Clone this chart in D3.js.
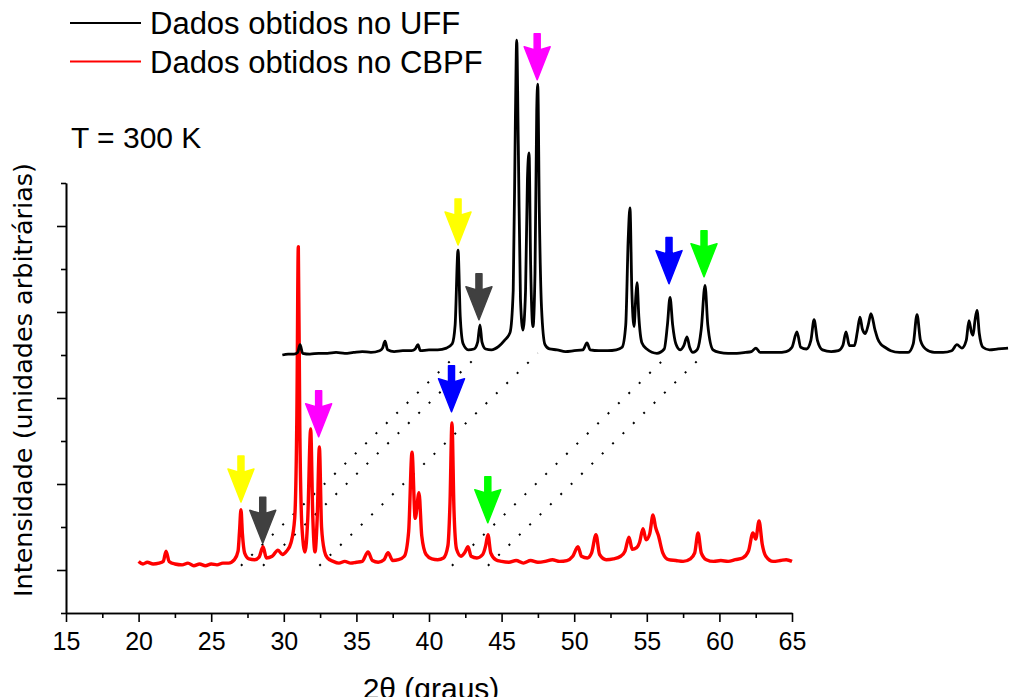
<!DOCTYPE html>
<html>
<head>
<meta charset="utf-8">
<script src="https://cdn.jsdelivr.net/npm/d3@7"></script>
<style>
  html, body { margin: 0; padding: 0; background: #fff; }
  svg { display: block; }
</style>
</head>
<body>
<svg id="chart" width="1009" height="697"></svg>
<script>
// ---------------- DATA ----------------
// Red: CBPF data, 2θ (deg) vs intensity (arb. units)
const cbpfData = [
  [20.0,60],[20.3,57],[20.6,59],[21.0,57],[21.4,58],[21.7,60],[21.89,72],[22.1,60],[22.5,57],[23.0,56],
  [23.4,58],[23.8,55],[24.2,57],[24.6,55],[25.0,57],[25.4,56],[25.8,58],[26.2,58],[26.6,62],[26.85,72],
  [26.95,95],[27.05,120],[27.15,92],[27.3,70],[27.6,63],[28.0,62],[28.3,65],[28.57,77],[28.8,64],[29.2,66],
  [29.6,73],[29.9,68],[30.2,72],[30.5,82],[30.75,110],[30.9,230],[31.0,426],[31.1,220],[31.25,100],[31.46,71],
  [31.65,110],[31.85,214],[32.0,110],[32.15,71],[32.3,110],[32.45,193],[32.6,100],[32.8,72],[33.0,64],[33.4,60],
  [33.8,58],[34.2,60],[34.6,58],[35.0,59],[35.4,60],[35.8,71],[36.1,61],[36.5,59],[36.9,62],[37.18,70],
  [37.5,61],[37.9,62],[38.3,66],[38.6,95],[38.83,187],[39.05,110],[39.31,140],[39.5,90],[39.8,68],[40.2,63],
  [40.6,62],[41.0,64],[41.3,78],[41.45,130],[41.58,221],[41.72,120],[41.9,74],[42.2,66],[42.45,70],[42.69,77],
  [42.9,66],[43.3,64],[43.7,68],[43.9,78],[44.06,91],[44.25,70],[44.6,62],[45.0,60],[45.5,59],[46.0,61],
  [46.5,58],[47.0,61],[47.5,59],[48.0,60],[48.5,62],[49.0,60],[49.5,61],[49.9,66],[50.26,77],[50.5,66],
  [50.9,64],[51.2,70],[51.5,91],[51.75,68],[52.2,62],[52.7,63],[53.2,66],[53.5,72],[53.77,88],[54.0,74],
  [54.3,76],[54.5,82],[54.74,98],[54.95,85],[55.2,92],[55.43,114],[55.6,100],[55.8,90],[56.1,70],[56.5,62],
  [57.0,61],[57.5,60],[58.0,63],[58.3,70],[58.53,93],[58.75,70],[59.1,62],[59.6,60],[60.1,61],[60.6,60],
  [61.1,62],[61.6,64],[62.0,72],[62.31,93],[62.5,86],[62.73,107],[62.95,80],[63.2,66],[63.7,60],[64.2,61],
  [64.6,62],[65.0,60]
];

// Black: UFF data, raw 2θ (deg) vs intensity (arb. units); drawn shifted
const uffData = [
  [14.9,55],[15.3,56],[15.7,56],[15.95,58],[16.12,67],[16.3,57],[16.8,56],[17.4,57],[18.0,57],[18.6,58],
  [19.2,57],[19.8,58],[20.4,59],[21.0,58],[21.6,60],[21.8,63],[21.97,71],[22.15,61],[22.6,59],[23.2,60],
  [23.8,60],[24.05,62],[24.24,67],[24.4,60],[25.0,61],[25.6,61],[26.2,63],[26.6,68],[26.8,90],[27.0,177],
  [27.15,100],[27.35,68],[27.7,61],[28.1,62],[28.35,70],[28.51,90],[28.65,70],[28.9,62],[29.3,61],[29.8,65],
  [30.2,72],[30.58,81],[30.8,130],[30.95,330],[31.04,421],[31.15,300],[31.3,120],[31.47,84],[31.65,130],[31.78,260],
  [31.89,290],[32.0,160],[32.16,88],[32.3,150],[32.42,340],[32.49,370],[32.6,220],[32.75,110],[32.99,67],[33.3,62],
  [33.82,61],[34.4,59],[35.0,60],[35.6,61],[35.88,69],[36.1,61],[36.7,60],[37.3,60],[37.9,61],[38.3,64],
  [38.55,90],[38.72,190],[38.84,226],[38.97,130],[39.12,88],[39.25,125],[39.33,139],[39.45,100],[39.67,69],[40.0,62],
  [40.7,57],[41.2,62],[41.42,90],[41.6,122],[41.78,90],[42.0,68],[42.29,61],[42.55,66],[42.77,76],[42.95,64],
  [43.18,58],[43.5,62],[43.75,85],[44.01,136],[44.2,90],[44.56,61],[45.0,58],[45.6,57],[46.2,57],[46.8,58],
  [47.2,59],[47.52,63],[47.8,58],[48.4,58],[49.0,58],[49.6,59],[50.0,64],[50.34,82],[50.6,64],[51.0,62],
  [51.3,72],[51.52,96],[51.75,72],[52.1,61],[52.7,59],[53.2,60],[53.5,66],[53.72,82],[53.95,66],[54.3,66],
  [54.5,82],[54.68,99],[54.85,85],[55.05,80],[55.25,90],[55.44,103],[55.72,84],[55.9,74],[56.1,68],[56.4,64],
  [56.8,60],[57.4,58],[58.0,58],[58.35,68],[58.61,102],[58.85,72],[59.2,62],[59.8,58],[60.4,58],[61.0,60],
  [61.36,67],[61.7,63],[62.0,72],[62.19,95],[62.35,82],[62.47,78],[62.6,95],[62.74,107],[62.9,80],[63.15,64],
  [63.6,61],[64.2,62],[64.88,63]
];
const uffShiftX = 15;   // horizontal display offset of UFF curve (deg)
const uffShiftY = 245;  // vertical display offset of UFF curve

// Dotted correspondence lines: [CBPF peak 2θ, UFF peak raw 2θ]
const peakLinks = [[27.05,27.0],[28.57,28.51],[32.45,32.49],[41.58,41.6],[44.06,44.01]];
const linkBaseCBPF = 55, linkBaseUFF = 57;

// Arrows: 2θ (raw for UFF), tip intensity (raw), colour
const arrowColors = ["#ffff00","#404040","#ff00ff","#0000ff","#00ff00"];
const uffArrowTheta = [27.0, 28.44, 32.45, 41.53, 43.94];
const uffArrowTip   = [183, 96, 375, 138, 146];
const cbpfArrowTheta = [27.05, 28.55, 32.4, 41.55, 44.05];
const cbpfArrowTip   = [129, 81, 205, 234, 105];

const xMajorTicks = [15,20,25,30,35,40,45,50,55,60,65];
const xMinorTicks = [17.5,22.5,27.5,32.5,37.5,42.5,47.5,52.5,57.5,62.5];
const yMajorTicks = [50,150,250,350,450];
const yMinorTicks = [0,100,200,300,400,500];

const legendItems = [["Dados obtidos no UFF","#000000"],["Dados obtidos no CBPF","#ff0000"]];

// ---------------- CHART ----------------
const svg = d3.select("#chart");
const x = d3.scaleLinear().domain([15,65]).range([66,792]);
const y = d3.scaleLinear().domain([0,500]).range([613,183]);

const fontAx = "'Liberation Sans', Arial, sans-serif";
function styleAxis(g){
  g.selectAll("path.domain").attr("stroke","#000").attr("stroke-width",1.6);
  g.selectAll(".tick line").attr("stroke","#000").attr("stroke-width",1.6);
}
const gxMinor = svg.append("g").attr("transform",`translate(0,613)`)
  .call(d3.axisBottom(x).tickValues(xMinorTicks).tickSize(5).tickSizeOuter(0).tickFormat(""));
styleAxis(gxMinor);
const gx = svg.append("g").attr("transform",`translate(0,613)`)
  .call(d3.axisBottom(x).tickValues(xMajorTicks).tickSize(9).tickSizeOuter(0).tickFormat(d3.format("d")));
styleAxis(gx);
gx.selectAll(".tick text").attr("y",37).attr("dy",0)
  .attr("font-family",fontAx).attr("font-size",25).attr("fill","#000");

const gyMinor = svg.append("g").attr("transform",`translate(66,0)`)
  .call(d3.axisLeft(y).tickValues(yMinorTicks).tickSize(5).tickSizeOuter(0).tickFormat(""));
styleAxis(gyMinor);
const gy = svg.append("g").attr("transform",`translate(66,0)`)
  .call(d3.axisLeft(y).tickValues(yMajorTicks).tickSize(9).tickSizeOuter(0).tickFormat(""));
styleAxis(gy);

// Axis titles
svg.append("text").attr("x",431).attr("y",699).attr("text-anchor","middle")
  .attr("font-family",fontAx).attr("font-size",30).text("2θ (graus)");
svg.append("text").attr("transform","translate(32,380) rotate(-90)").attr("text-anchor","middle")
  .attr("font-family","'DejaVu Sans', sans-serif").attr("font-size",25.5)
  .text("Intensidade (unidades arbitrárias)");

// Dotted link lines
svg.append("g").selectAll("line").data(peakLinks).join("line")
  .attr("x1",d=>x(d[0])).attr("y1",y(linkBaseCBPF))
  .attr("x2",d=>x(d[1]+uffShiftX)).attr("y2",y(linkBaseUFF+uffShiftY))
  .attr("stroke","#000").attr("stroke-width",2).attr("stroke-dasharray","2 12.5");

// Curves
const line = d3.line().x(d=>x(d[0])).y(d=>y(d[1])).curve(d3.curveMonotoneX);
svg.append("path").datum(cbpfData).attr("d",line)
  .attr("fill","none").attr("stroke","#ff0000").attr("stroke-width",3.4).attr("stroke-linejoin","round");
svg.append("path").datum(uffData.map(d=>[d[0]+uffShiftX, d[1]+uffShiftY])).attr("d",line)
  .attr("fill","none").attr("stroke","#000").attr("stroke-width",2.8).attr("stroke-linejoin","round");

// Arrows
function arrowPath(tx, ty){
  const p = d3.path();
  p.moveTo(tx, ty);
  p.lineTo(tx-13, ty-33);
  p.lineTo(tx-3, ty-30);
  p.lineTo(tx-3, ty-46);
  p.lineTo(tx+3, ty-46);
  p.lineTo(tx+3, ty-30);
  p.lineTo(tx+13, ty-33);
  p.closePath();
  return p.toString();
}
const arrows = [];
uffArrowTheta.forEach((t,i)=>arrows.push({x:x(t+uffShiftX), y:y(uffArrowTip[i]+uffShiftY), c:arrowColors[i]}));
cbpfArrowTheta.forEach((t,i)=>arrows.push({x:x(t), y:y(cbpfArrowTip[i]), c:arrowColors[i]}));
svg.append("g").selectAll("path").data(arrows).join("path")
  .attr("d",d=>arrowPath(d.x,d.y)).attr("fill",d=>d.c).attr("stroke",d=>d.c)
  .attr("stroke-width",1.5).attr("stroke-linejoin","round");

// Legend
const lg = svg.append("g");
legendItems.forEach((it,i)=>{
  const yy = 23 + i*38.5;
  lg.append("line").attr("x1",70).attr("x2",141).attr("y1",yy).attr("y2",yy)
    .attr("stroke",it[1]).attr("stroke-width",2);
  lg.append("text").attr("x",150).attr("y",yy+11).attr("font-family",fontAx)
    .attr("font-size",31).attr("fill","#000").text(it[0]);
});
svg.append("text").attr("x",71).attr("y",148).attr("font-family",fontAx)
  .attr("font-size",30).attr("fill","#000").text("T = 300 K");
</script>
</body>
</html>
